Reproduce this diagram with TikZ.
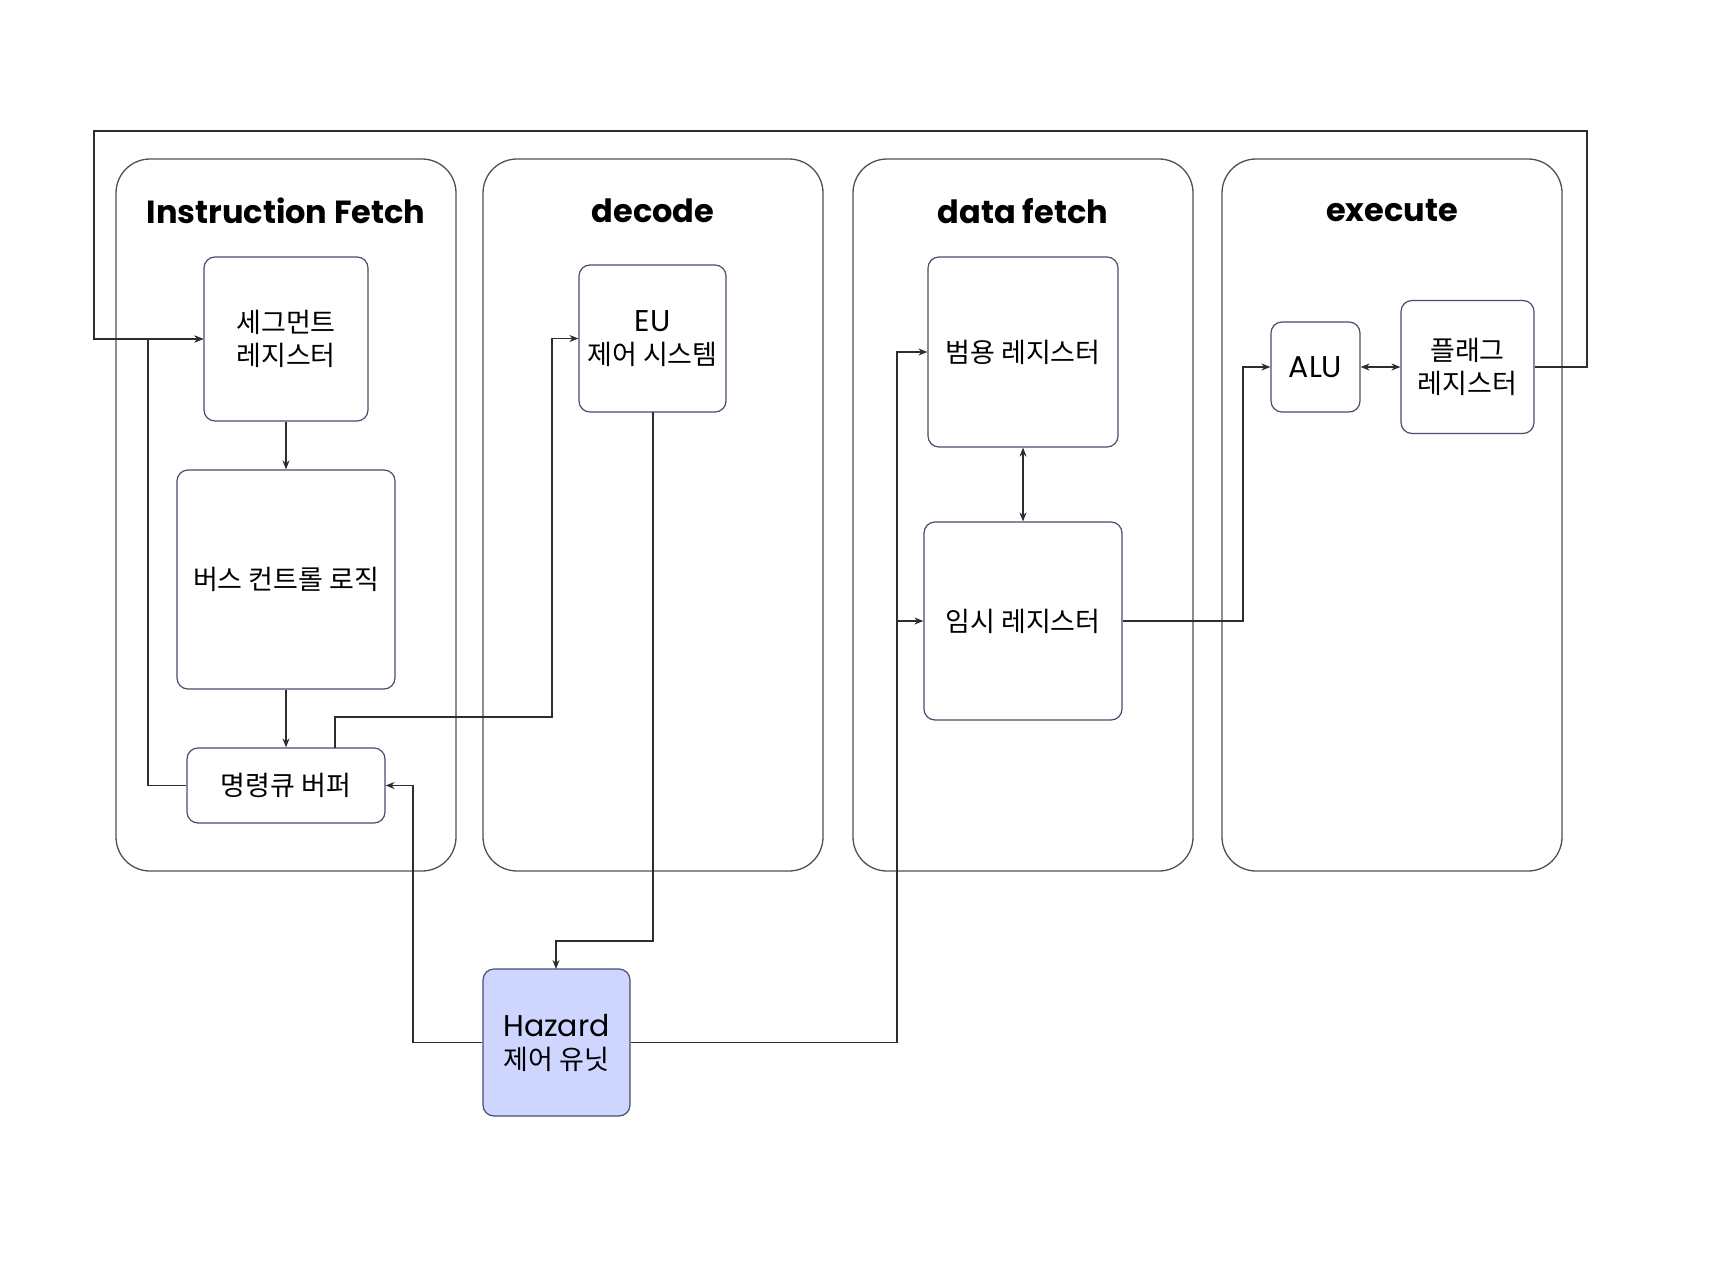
\documentclass[tikz,border=0pt]{standalone}
\usepackage{fontspec}
\newfontfamily\kr{Noto Sans CJK KR}
\newfontfamily\pop{Poppins}
\usetikzlibrary{arrows.meta}
\definecolor{boxline}{RGB}{72,78,110}
\definecolor{laneline}{RGB}{80,80,80}
\definecolor{conn}{RGB}{45,45,45}
\definecolor{hazfill}{RGB}{206,213,254}
\newcommand{\lat}[1]{{\pop\fontsize{30}{33}\selectfont #1}}
\begin{document}
\begin{tikzpicture}[x=1pt,y=-1pt,
  lane/.style={draw=laneline,line width=1.3pt,rounded corners=34pt},
  box/.style={draw=boxline,line width=1.2pt,rounded corners=11pt,fill=white,inner sep=0pt,align=center,font=\kr\fontsize{27}{33}\selectfont},
  title/.style={font=\pop\bfseries\fontsize{32}{36}\selectfont,text=black},
  conn/.style={draw=conn,line width=1.2pt},
  arr/.style={conn,-{Stealth[length=9pt,width=7pt]}},
  barr/.style={conn,{Stealth[length=9pt,width=7pt]}-{Stealth[length=9pt,width=7pt]}}]
\useasboundingbox[fill=white] (0,0) rectangle (1732,1271);
% lanes
\draw[lane] (116,159) rectangle (456,871);
\draw[lane] (483,159) rectangle (823,871);
\draw[lane] (853,159) rectangle (1193,871);
\draw[lane] (1222,159) rectangle (1562,871);
\node[title] (t1) at (286,211) {Instruction Fetch};
\node[title] (t2) at (653,211) {decode};
\node[title] (t3) at (1023,211) {data fetch};
\node[title] (t4) at (1392,211) {execute};
% boxes
\node[box,minimum width=164,minimum height=164] (seg) at (286,339) {세그먼트\\레지스터};
\node[box,minimum width=218,minimum height=219] (bus) at (286,579.5) {버스 컨트롤 로직};
\node[box,minimum width=198,minimum height=75] (queue) at (286,785.5) {명령큐 버퍼};
\node[box,minimum width=147,minimum height=147] (eu) at (652.5,338.5) {\lat{EU}\\제어 시스템};
\node[box,fill=hazfill,minimum width=147,minimum height=147] (haz) at (556.5,1042.5) {\lat{Hazard}\\제어 유닛};
\node[box,minimum width=190,minimum height=190] (gen) at (1023,352) {범용 레지스터};
\node[box,minimum width=198,minimum height=198] (tmp) at (1023,621) {임시 레지스터};
\node[box,minimum width=89,minimum height=90] (alu) at (1315.5,367) {\lat{ALU}};
\node[box,minimum width=133,minimum height=133] (flag) at (1467.5,367) {플래그\\레지스터};
% coordinates
\coordinate (qtop) at (335,748);
\coordinate (euS) at (653,412);
\coordinate (hazN) at (556,969);
% connectors
\draw[arr] (flag.east) -- (1587,367) -- (1587,131) -- (94,131) -- (94,339) -- (seg.west);
\draw[arr] (queue.west) -- (148,785.5) -- (148,339) -- (seg.west);
\draw[arr] (seg.south) -- (bus.north);
\draw[arr] (bus.south) -- (queue.north);
\draw[arr] (qtop) -- (335,717) -- (552,717) -- (552,338.5) -- (eu.west);
\draw[arr] (euS) -- (653,941) -- (556,941) -- (hazN);
\draw[arr] (haz.west) -- (413,1042.5) -- (413,785.5) -- (queue.east);
\draw[arr] (haz.east) -- (897,1042.5) -- (897,352) -- (gen.west);
\draw[arr] (897,621) -- (tmp.west);
\draw[barr] (gen.south) -- (tmp.north);
\draw[arr] (tmp.east) -- (1243,621) -- (1243,367) -- (alu.west);
\draw[barr] (alu.east) -- (flag.west);
\end{tikzpicture}
\end{document}
